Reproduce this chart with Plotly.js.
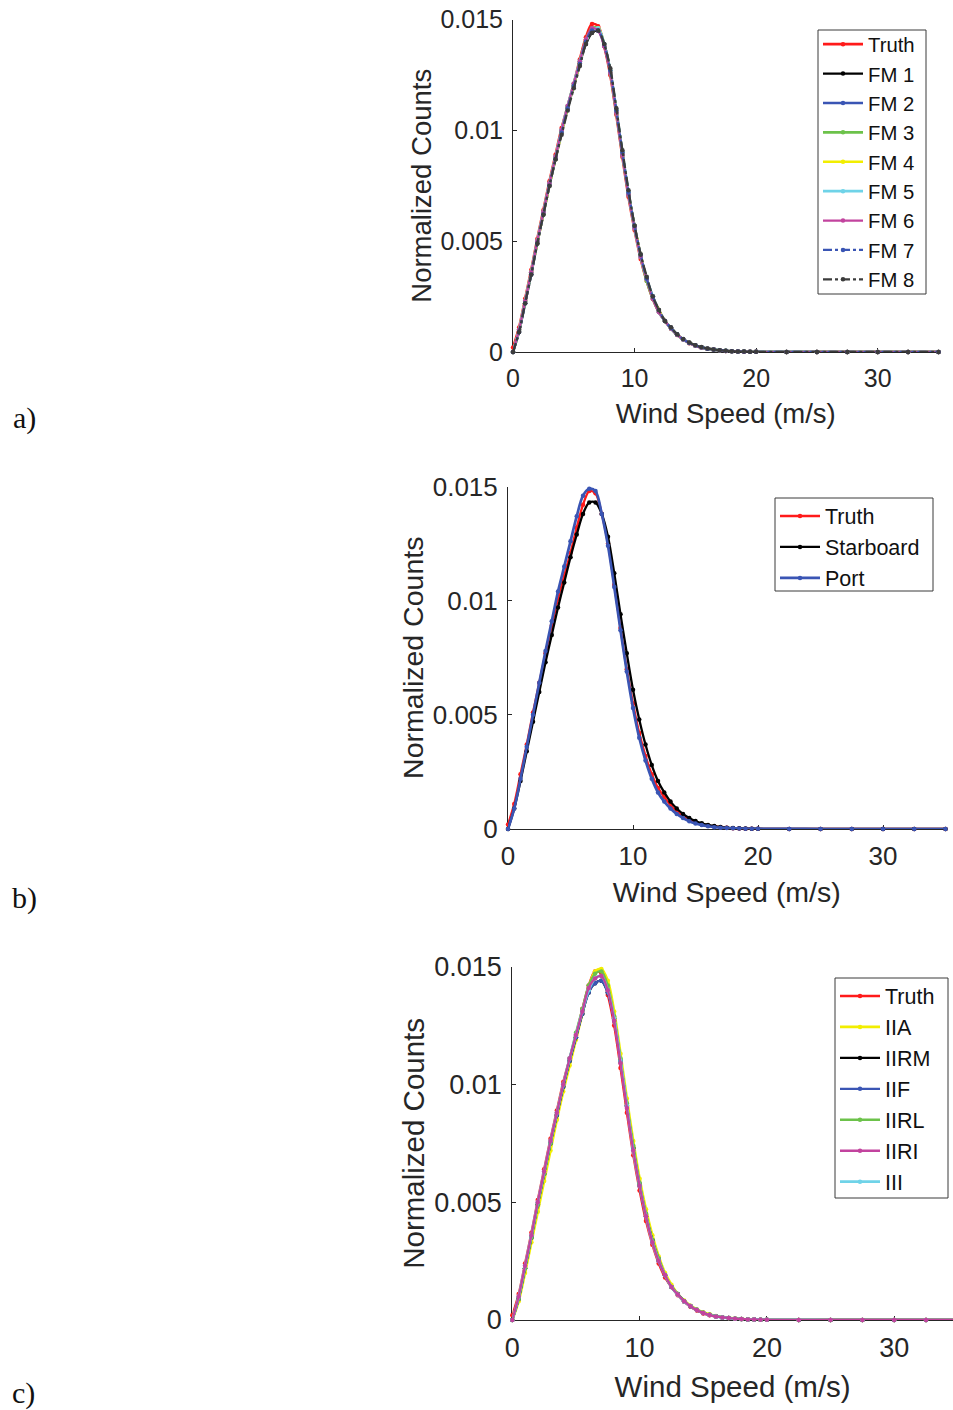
<!DOCTYPE html>
<html>
<head>
<meta charset="utf-8">
<script src="https://cdn.plot.ly/plotly-3.0.1.min.js"></script>
<style>
  html, body { margin: 0; padding: 0; background: #ffffff; }
  #chart { width: 953px; height: 1410px; }
</style>
</head>
<body>
<div id="chart"></div>
<script>
// Wind speed bin centres (m/s)
const speeds = [0, 0.5, 1, 1.5, 2, 2.5, 3, 3.5, 4, 4.5, 5, 5.5, 6,
  6.5, 7, 7.5, 8, 8.5, 9, 9.5, 10, 10.5, 11, 11.5, 12, 12.5,
  13, 13.5, 14, 14.5, 15, 15.5, 16, 16.5, 17, 17.5, 18, 18.5, 19,
  19.5, 20, 22.5, 25, 27.5, 30, 32.5, 35];

// Normalized counts: reference (truth) distribution
const truth = [0.0002, 0.0011, 0.0024, 0.0037, 0.0051, 0.0064, 0.0077, 0.0089, 0.0101, 0.0111, 0.0121, 0.0132, 0.0142,
  0.0148, 0.0147, 0.0138, 0.0125, 0.0107, 0.0088, 0.0070, 0.0055, 0.0042, 0.0032, 0.0024, 0.0018, 0.0014,
  0.00105, 0.00077, 0.00056, 0.00040, 0.00028, 0.00020, 0.00015, 0.00011, 0.00008, 0.00005, 0.000035, 0.000024, 0.000016,
  0.000010, 0.000007, 0.000002, 0.000001, 0, 0, 0, 0];

// Panel a: flight models FM 1 - FM 8
const fm1 = [0, 0.0009, 0.0022, 0.0035, 0.0049, 0.0062, 0.0075, 0.0087, 0.0099, 0.0110, 0.0120, 0.0130, 0.0139,
  0.0144, 0.0145, 0.0139, 0.0127, 0.0109, 0.0090, 0.0072, 0.0057, 0.0044, 0.0033, 0.0025, 0.0019, 0.0014,
  0.0011, 0.0008, 0.00058, 0.00042, 0.00030, 0.00021, 0.00015, 0.00011, 0.00008, 0.000055, 0.000038, 0.000026, 0.000017,
  0.000011, 0.000008, 0.000003, 0.000001, 0, 0, 0, 0];
const fm2 = [0, 0.0010, 0.0023, 0.0036, 0.0050, 0.0063, 0.0076, 0.0088, 0.0100, 0.0110, 0.0120, 0.0131, 0.0140,
  0.0145, 0.0145, 0.0138, 0.0126, 0.0108, 0.0089, 0.0071, 0.0056, 0.0043, 0.0033, 0.0025, 0.0018, 0.0014,
  0.00107, 0.00079, 0.00057, 0.00041, 0.00029, 0.00020, 0.00015, 0.00011, 0.00008, 0.00005, 0.000036, 0.000025, 0.000016,
  0.000010, 0.000007, 0.000002, 0.000001, 0, 0, 0, 0];
const fm3 = [0, 0.0010, 0.0023, 0.0036, 0.0050, 0.0063, 0.0076, 0.0088, 0.0100, 0.0111, 0.0121, 0.0131, 0.0141,
  0.0146, 0.0146, 0.0139, 0.0126, 0.0108, 0.0089, 0.0071, 0.0056, 0.0043, 0.0032, 0.0024, 0.0018, 0.0014,
  0.00106, 0.00078, 0.00057, 0.00041, 0.00029, 0.00020, 0.00015, 0.00011, 0.00008, 0.00005, 0.000036, 0.000025, 0.000016,
  0.000010, 0.000007, 0.000002, 0.000001, 0, 0, 0, 0];
const fm4 = [0, 0.0010, 0.0023, 0.0036, 0.0049, 0.0062, 0.0075, 0.0087, 0.0099, 0.0110, 0.0120, 0.0130, 0.0140,
  0.0145, 0.0146, 0.0139, 0.0127, 0.0109, 0.0090, 0.0072, 0.0057, 0.0044, 0.0033, 0.0025, 0.0019, 0.0014,
  0.00107, 0.00079, 0.00058, 0.00042, 0.00030, 0.00021, 0.00015, 0.00011, 0.00008, 0.000055, 0.000038, 0.000026, 0.000017,
  0.000011, 0.000007, 0.000002, 0.000001, 0, 0, 0, 0];
const fm5 = [0, 0.0010, 0.0023, 0.0036, 0.0050, 0.0063, 0.0076, 0.0088, 0.0100, 0.0111, 0.0121, 0.0131, 0.0140,
  0.0145, 0.0146, 0.0139, 0.0127, 0.0109, 0.0090, 0.0072, 0.0056, 0.0043, 0.0033, 0.0025, 0.0018, 0.0014,
  0.00106, 0.00078, 0.00057, 0.00041, 0.00029, 0.00021, 0.00015, 0.00011, 0.00008, 0.000052, 0.000036, 0.000025, 0.000016,
  0.000010, 0.000007, 0.000002, 0.000001, 0, 0, 0, 0];
const fm6 = [0, 0.0010, 0.0023, 0.0036, 0.0050, 0.0063, 0.0076, 0.0088, 0.0100, 0.0111, 0.0121, 0.0131, 0.0141,
  0.0146, 0.0145, 0.0138, 0.0126, 0.0108, 0.0089, 0.0071, 0.0056, 0.0043, 0.0033, 0.0024, 0.0018, 0.0014,
  0.00106, 0.00078, 0.00057, 0.00041, 0.00029, 0.00020, 0.00015, 0.00011, 0.00008, 0.00005, 0.000036, 0.000025, 0.000016,
  0.000010, 0.000007, 0.000002, 0.000001, 0, 0, 0, 0];
const fm7 = [0, 0.0009, 0.0022, 0.0035, 0.0049, 0.0062, 0.0075, 0.0087, 0.0099, 0.0110, 0.0120, 0.0130, 0.0140,
  0.0145, 0.0145, 0.0139, 0.0127, 0.0109, 0.0090, 0.0072, 0.0057, 0.0044, 0.0033, 0.0025, 0.0019, 0.0014,
  0.00108, 0.0008, 0.00058, 0.00042, 0.00030, 0.00021, 0.00015, 0.00011, 0.00008, 0.000055, 0.000038, 0.000026, 0.000017,
  0.000011, 0.000008, 0.000003, 0.000001, 0, 0, 0, 0];
const fm8 = [0, 0.0009, 0.0022, 0.0035, 0.0049, 0.0062, 0.0075, 0.0087, 0.0098, 0.0109, 0.0119, 0.0129, 0.0139,
  0.0144, 0.0145, 0.0139, 0.0128, 0.0110, 0.0091, 0.0073, 0.0057, 0.0044, 0.0034, 0.0025, 0.0019, 0.0014,
  0.0011, 0.0008, 0.00059, 0.00043, 0.00031, 0.00022, 0.00016, 0.00011, 0.00008, 0.000055, 0.000038, 0.000026, 0.000017,
  0.000011, 0.000008, 0.000003, 0.000001, 0, 0, 0, 0];

// Panel b: starboard and port sensors
const starboard = [0, 0.0009, 0.0021, 0.0034, 0.0047, 0.0060, 0.0073, 0.0085, 0.0097, 0.0108, 0.0119, 0.0129, 0.0138,
  0.0143, 0.0143, 0.0138, 0.0128, 0.0112, 0.0094, 0.0077, 0.0061, 0.0048, 0.0037, 0.0028, 0.0021, 0.0016,
  0.0012, 0.0009, 0.00066, 0.00048, 0.00035, 0.00025, 0.00018, 0.00013, 0.00009, 0.00006, 0.000042, 0.00003, 0.00002,
  0.000014, 0.00001, 0.000003, 0.000001, 0, 0, 0, 0];
const port = [0, 0.0009, 0.0022, 0.0036, 0.0050, 0.0064, 0.0078, 0.0091, 0.0104, 0.0115, 0.0126, 0.0137, 0.0146,
  0.0149, 0.0148, 0.0138, 0.0124, 0.0106, 0.0087, 0.0069, 0.0053, 0.0040, 0.0030, 0.0022, 0.0016, 0.0012,
  0.0009, 0.00066, 0.00048, 0.00034, 0.00024, 0.00017, 0.00012, 0.00008, 0.00006, 0.00004, 0.000028, 0.00002, 0.000013,
  0.000009, 0.000006, 0.000002, 0.000001, 0, 0, 0, 0];

// Panel c: correction methods
const iia = [0, 0.0008, 0.0020, 0.0033, 0.0046, 0.0059, 0.0072, 0.0085, 0.0097, 0.0108, 0.0119, 0.0130, 0.0141,
  0.0148, 0.0149, 0.0144, 0.0131, 0.0113, 0.0094, 0.0076, 0.0060, 0.0047, 0.0036, 0.0027, 0.0020, 0.0015,
  0.0011, 0.00083, 0.00061, 0.00045, 0.00033, 0.00024, 0.00017, 0.00012, 0.00009, 0.00006, 0.000042, 0.00003, 0.00002,
  0.000013, 0.000009, 0.000003, 0.000001, 0, 0, 0, 0];
const iirm = [0, 0.0009, 0.0022, 0.0035, 0.0049, 0.0062, 0.0075, 0.0087, 0.0099, 0.0110, 0.0120, 0.0130, 0.0139,
  0.0143, 0.0144, 0.0139, 0.0128, 0.0110, 0.0091, 0.0073, 0.0057, 0.0044, 0.0034, 0.0025, 0.0019, 0.0014,
  0.0011, 0.0008, 0.00058, 0.00042, 0.00030, 0.00021, 0.00015, 0.00011, 0.00008, 0.000055, 0.000038, 0.000026, 0.000017,
  0.000011, 0.000008, 0.000003, 0.000001, 0, 0, 0, 0];
const iif = [0, 0.0009, 0.0022, 0.0035, 0.0049, 0.0062, 0.0075, 0.0087, 0.0099, 0.0110, 0.0120, 0.0130, 0.0139,
  0.0143, 0.0144, 0.0139, 0.0127, 0.0110, 0.0091, 0.0073, 0.0058, 0.0045, 0.0034, 0.0026, 0.0019, 0.0014,
  0.0011, 0.0008, 0.00059, 0.00043, 0.00031, 0.00022, 0.00016, 0.00011, 0.00008, 0.000055, 0.000038, 0.000026, 0.000017,
  0.000011, 0.000008, 0.000003, 0.000001, 0, 0, 0, 0];
const iirl = [0, 0.0009, 0.0022, 0.0035, 0.0049, 0.0062, 0.0075, 0.0088, 0.0100, 0.0111, 0.0122, 0.0132, 0.0142,
  0.0147, 0.0148, 0.0142, 0.0129, 0.0111, 0.0092, 0.0074, 0.0058, 0.0045, 0.0034, 0.0026, 0.0019, 0.0014,
  0.0011, 0.0008, 0.00059, 0.00043, 0.00031, 0.00022, 0.00016, 0.00011, 0.00008, 0.000055, 0.000038, 0.000026, 0.000017,
  0.000011, 0.000008, 0.000003, 0.000001, 0, 0, 0, 0];
const iiri = [0, 0.0010, 0.0023, 0.0036, 0.0050, 0.0063, 0.0076, 0.0088, 0.0100, 0.0111, 0.0121, 0.0131, 0.0141,
  0.0145, 0.0146, 0.0140, 0.0127, 0.0109, 0.0090, 0.0072, 0.0057, 0.0044, 0.0033, 0.0025, 0.0019, 0.0014,
  0.00108, 0.0008, 0.00058, 0.00042, 0.00030, 0.00021, 0.00015, 0.00011, 0.00008, 0.000055, 0.000038, 0.000026, 0.000017,
  0.000011, 0.000008, 0.000003, 0.000001, 0, 0, 0, 0];
const iii = [0, 0.0010, 0.0023, 0.0036, 0.0050, 0.0063, 0.0076, 0.0088, 0.0100, 0.0111, 0.0121, 0.0131, 0.0140,
  0.0145, 0.0146, 0.0140, 0.0128, 0.0110, 0.0091, 0.0072, 0.0057, 0.0044, 0.0033, 0.0025, 0.0019, 0.0014,
  0.00107, 0.00079, 0.00058, 0.00042, 0.00030, 0.00021, 0.00015, 0.00011, 0.00008, 0.000052, 0.000036, 0.000025, 0.000016,
  0.000010, 0.000007, 0.000002, 0.000001, 0, 0, 0, 0];

// Axis ticks
const xTicks = [0, 10, 20, 30];
const yTicks = [0, 0.005, 0.01, 0.015];
const yTickText = ['0', '0.005', '0.01', '0.015'];
const panelLabels = ['a)', 'b)', 'c)'];

const W = 953, H = 1410;
const FONT = 'Liberation Sans, Arial, Helvetica, sans-serif';
const INK = '#262626';

// Line colours
const C = {
  red: '#ff1a1a', black: '#000000', blue: '#3a55b4', green: '#6cc24a',
  yellow: '#f2ee00', cyan: '#6fd3e8', magenta: '#c2439e', gray: '#3c3c3c'
};

function series(name, y, color, panel, dash, width) {
  const n = panel === 1 ? '' : String(panel);
  return {
    type: 'scatter', mode: 'lines+markers', name: name,
    x: speeds, y: y,
    xaxis: 'x' + n, yaxis: 'y' + n,
    legend: panel === 1 ? 'legend' : 'legend' + panel,
    line: { color: color, width: width || 2.3, dash: dash || 'solid', shape: 'spline', smoothing: 0.9 },
    marker: { color: color, size: 4.5 },
    cliponaxis: false,
    hoverinfo: 'skip'
  };
}

const traces = [
  series('Truth', truth, C.red, 1, null, 2.7),
  series('FM 1', fm1, C.black, 1),
  series('FM 2', fm2, C.blue, 1),
  series('FM 3', fm3, C.green, 1, null, 2.7),
  series('FM 4', fm4, C.yellow, 1),
  series('FM 5', fm5, C.cyan, 1, null, 2.7),
  series('FM 6', fm6, C.magenta, 1),
  series('FM 7', fm7, C.blue, 1, 'dashdot'),
  series('FM 8', fm8, C.gray, 1, 'dashdot'),

  series('Truth', truth, C.red, 2),
  series('Starboard', starboard, C.black, 2),
  series('Port', port, C.blue, 2, null, 2.7),

  series('Truth', truth, C.red, 3),
  series('IIA', iia, C.yellow, 3, null, 2.7),
  series('IIRM', iirm, C.black, 3),
  series('IIF', iif, C.blue, 3),
  series('IIRL', iirl, C.green, 3),
  series('III', iii, C.cyan, 3, null, 2.7),
  series('IIRI', iiri, C.magenta, 3)
];
// legend order Truth, IIA, IIRM, IIF, IIRL, IIRI, III while IIRI is drawn last
traces[17].legendrank = 1007;
traces[18].legendrank = 1006;

// Plot boxes in page pixels: left, right, y=0 line, y=0.015 line
const boxes = [
  { l: 513, r: 938.5, b: 352, t: 19.5, xmax: 35, tick: 25, title: 27.5, xstand: 12 },
  { l: 508, r: 945.5, b: 829, t: 486.5, xmax: 35, tick: 26, title: 28.5, xstand: 11 },
  { l: 512.3, r: 953, b: 1320, t: 966.7, xmax: (953 - 512.3) / 12.73, tick: 27, title: 29.5, xstand: 13 }
];

const layout = {
  width: W, height: H,
  margin: { l: 0, r: 0, t: 0, b: 0, autoexpand: false },
  paper_bgcolor: '#ffffff', plot_bgcolor: 'rgba(0,0,0,0)',
  font: { family: FONT, color: INK },
  showlegend: true,
  annotations: [],
  shapes: []
};

boxes.forEach((b, i) => {
  const n = i === 0 ? '' : String(i + 1);
  layout['xaxis' + n] = {
    domain: [b.l / W, b.r / W], range: [0, b.xmax], anchor: 'y' + n,
    showline: true, linecolor: INK, linewidth: 1, mirror: false,
    ticks: 'inside', ticklen: 4, tickcolor: INK, tickwidth: 1,
    tickvals: xTicks, showgrid: false, zeroline: false, layer: 'below traces',
    tickfont: { family: FONT, size: b.tick, color: INK }, ticklabelstandoff: 4,
    title: { text: 'Wind Speed (m/s)', font: { family: FONT, size: b.title, color: INK }, standoff: b.xstand },
    automargin: true, fixedrange: true
  };
  layout['yaxis' + n] = {
    domain: [1 - b.b / H, 1 - b.t / H], range: [0, 0.015], anchor: 'x' + n,
    showline: true, linecolor: INK, linewidth: 1, mirror: false,
    ticks: 'inside', ticklen: 4, tickcolor: INK, tickwidth: 1,
    tickvals: yTicks, ticktext: yTickText, showgrid: false, zeroline: false, layer: 'below traces',
    tickfont: { family: FONT, size: b.tick, color: INK }, ticklabelstandoff: 4,
    title: { text: 'Normalized Counts', font: { family: FONT, size: b.title, color: INK }, standoff: 0 },
    automargin: true, fixedrange: true
  };
});

// Legend frames (page pixels) and legend settings
const legendFrames = [
  { key: 'legend', l: 818, r: 926, t: 30, b: 294, top: 24.5, size: 20.3 },
  { key: 'legend2', l: 775, r: 933, t: 498, b: 591, top: 495.5, size: 21.5 },
  { key: 'legend3', l: 835, r: 948, t: 978, b: 1198, top: 975.5, size: 21.5 }
];
legendFrames.forEach(f => {
  layout.shapes.push({
    type: 'rect', xref: 'paper', yref: 'paper', layer: 'above',
    x0: f.l / W, x1: f.r / W, y0: 1 - f.b / H, y1: 1 - f.t / H,
    line: { color: '#3a3a3a', width: 1 }, fillcolor: '#ffffff'
  });
  layout[f.key] = {
    x: f.l / W, y: 1 - f.top / H, xanchor: 'left', yanchor: 'top',
    bgcolor: 'rgba(0,0,0,0)', borderwidth: 0, itemwidth: 40, tracegroupgap: 0,
    itemclick: false, itemdoubleclick: false,
    font: { family: FONT, size: f.size, color: '#111' }
  };
});

// Panel letters
const labelPos = [[24, 418], [24, 898], [23, 1393]];
panelLabels.forEach((txt, i) => {
  layout.annotations.push({
    text: txt, xref: 'paper', yref: 'paper',
    x: labelPos[i][0] / W, y: 1 - labelPos[i][1] / H,
    xanchor: 'center', yanchor: 'middle', showarrow: false,
    font: { family: 'Liberation Serif, Times New Roman, serif', size: 30, color: '#111' }
  });
});

Plotly.newPlot('chart', traces, layout, { staticPlot: true, displayModeBar: false });
</script>
</body>
</html>
